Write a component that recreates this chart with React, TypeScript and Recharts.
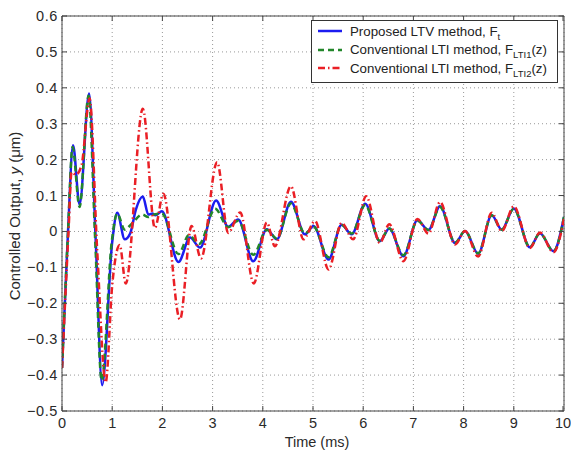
import { LineChart, Line, XAxis, YAxis, CartesianGrid, ReferenceLine, Legend } from "recharts";

// time axis ticks (ms) and output ticks (um)
const xTicks = [0, 1, 2, 3, 4, 5, 6, 7, 8, 9, 10];
const yTicks = [-0.5, -0.4, -0.3, -0.2, -0.1, 0, 0.1, 0.2, 0.3, 0.4, 0.5, 0.6];

// Proposed LTV method (blue)
const ltvTime = [
  0, 0.12, 0.22, 0.35, 0.54, 0.67, 0.8, 1.0, 1.1, 1.25, 1.36, 1.47, 1.61, 1.72, 1.8, 1.86, 1.99,
  2.32, 2.55, 2.75, 3.07, 3.31, 3.51, 3.81, 4.08, 4.28, 4.56, 4.84, 5.01, 5.31, 5.57, 5.77, 6.04,
  6.33, 6.52, 6.8, 7.08, 7.3, 7.53, 7.83, 8.03, 8.29, 8.56, 8.76, 9.0, 9.32, 9.52, 9.79, 10.0,
];
const ltvOut = [
  -0.38, 0.0, 0.24, 0.075, 0.384, -0.02, -0.428, -0.03, 0.052, -0.022, -0.005, 0.06, 0.097, 0.047, 0.05, 0.045, 0.056,
  -0.085, -0.017, -0.045, 0.086, 0.013, 0.033, -0.083, 0.006, -0.022, 0.083, -0.008, 0.015, -0.078, 0.019, -0.008, 0.077,
  -0.027, 0.008, -0.069, 0.031, 0.004, 0.07, -0.032, 0.001, -0.062, 0.045, 0.005, 0.064, -0.044, -0.005, -0.055, 0.04,
];

// Conventional LTI method, F_LTI1 (green)
const lti1Time = [
  0, 0.12, 0.21, 0.35, 0.53, 0.66, 0.79, 0.99, 1.1, 1.25, 1.38, 1.6, 1.72, 1.8, 1.99,
  2.32, 2.53, 2.73, 3.05, 3.31, 3.51, 3.81, 4.08, 4.28, 4.56, 4.84, 5.01, 5.31, 5.57, 5.77, 6.04,
  6.33, 6.52, 6.8, 7.08, 7.3, 7.53, 7.83, 8.03, 8.29, 8.56, 8.76, 9.0, 9.32, 9.52, 9.79, 10.0,
];
const lti1Out = [
  -0.38, 0.0, 0.235, 0.068, 0.378, -0.02, -0.415, -0.03, 0.05, 0.005, 0.02, 0.047, 0.04, 0.046, 0.05,
  -0.063, -0.01, -0.035, 0.063, 0.012, 0.03, -0.065, 0.005, -0.02, 0.078, -0.006, 0.013, -0.072, 0.018, -0.006, 0.074,
  -0.026, 0.008, -0.066, 0.03, 0.004, 0.068, -0.031, 0.001, -0.061, 0.045, 0.005, 0.063, -0.044, -0.005, -0.055, 0.04,
];

// Conventional LTI method, F_LTI2 (red)
const lti2Time = [
  0, 0.13, 0.19, 0.28, 0.39, 0.55, 0.7, 0.87, 1.0, 1.15, 1.27, 1.61, 1.85, 2.02, 2.35, 2.58, 2.77,
  3.09, 3.31, 3.55, 3.82, 4.08, 4.24, 4.56, 4.81, 5.04, 5.31, 5.57, 5.8, 6.06,
  6.33, 6.52, 6.8, 7.08, 7.3, 7.53, 7.83, 8.03, 8.29, 8.56, 8.76, 9.0, 9.32, 9.52, 9.79, 10.0,
];
const lti2Out = [
  -0.38, 0.0, 0.165, 0.158, 0.185, 0.37, -0.05, -0.42, -0.15, -0.038, -0.145, 0.342, 0.01, 0.105, -0.245, 0.015, -0.075,
  0.193, -0.004, 0.053, -0.145, 0.025, -0.041, 0.126, -0.022, 0.029, -0.106, 0.024, -0.022, 0.098,
  -0.032, 0.02, -0.083, 0.035, -0.006, 0.082, -0.036, 0.001, -0.07, 0.052, 0.001, 0.07, -0.046, -0.003, -0.058, 0.035,
];

const zip = (ts: number[], ys: number[]) => ts.map((t, i) => ({ t, y: ys[i] }));
const ltvData = zip(ltvTime, ltvOut);
const lti1Data = zip(lti1Time, lti1Out);
const lti2Data = zip(lti2Time, lti2Out);

const W = 571;
const H = 450;
const PLOT_TOP = 16;
const PLOT_RIGHT = 564;
const AXIS = "#444";
const TEXT = "#2a2a2a";
const FONT = "'Liberation Sans', Arial, sans-serif";

const BLUE = "#1c1cf0";
const GREEN = "#22862a";
const RED = "#ea1f25";

const fmtY = (v: number) => (v === 0 ? "0" : v < 0 ? "\u2212" + Math.abs(v).toFixed(1) : v.toFixed(1));

function XTick({ x, y, payload }: any) {
  return (
    <g>
      <line x1={x} x2={x} y1={y} y2={y - 5} stroke={AXIS} />
      <line x1={x} x2={x} y1={PLOT_TOP} y2={PLOT_TOP + 5} stroke={AXIS} />
      <text x={x} y={y + 17} textAnchor="middle" fontSize={14.5} fill={TEXT} fontFamily={FONT}>
        {payload.value}
      </text>
    </g>
  );
}

function YTick({ x, y, payload }: any) {
  return (
    <g>
      <line x1={x} x2={x + 5} y1={y} y2={y} stroke={AXIS} />
      <line x1={PLOT_RIGHT} x2={PLOT_RIGHT - 5} y1={y} y2={y} stroke={AXIS} />
      <text x={x - 4} y={y + 5} textAnchor="end" fontSize={14.5} letterSpacing={0.6} fill={TEXT} fontFamily={FONT}>
        {fmtY(payload.value)}
      </text>
    </g>
  );
}

const Sub = ({ children }: any) => (
  <span style={{ fontSize: 9.5, position: "relative", top: 4 }}>{children}</span>
);

const legendRows = [
  { color: BLUE, dash: undefined, label: <>Proposed LTV method, F<Sub>t</Sub></> },
  { color: GREEN, dash: "6 4", label: <>Conventional LTI method, F<Sub>LTI1</Sub>(z)</> },
  { color: RED, dash: "7 3 1.5 3", label: <>Conventional LTI method, F<Sub>LTI2</Sub>(z)</> },
];

function LegendBox() {
  return (
    <div
      style={{
        border: "1px solid #333",
        background: "#fff",
        width: 245,
        height: 60,
        paddingTop: 1,
        fontFamily: FONT,
        fontSize: 13.3,
        color: "#222",
        boxSizing: "content-box",
      }}
    >
      {legendRows.map((r, i) => (
        <div key={i} style={{ display: "flex", alignItems: "center", height: 18.5, whiteSpace: "nowrap" }}>
          <svg width={40} height={10} style={{ flex: "none" }}>
            <line x1={6} x2={30} y1={5} y2={5} stroke={r.color} strokeWidth={2.5} strokeDasharray={r.dash} />
          </svg>
          <span style={{ marginLeft: -2 }}>{r.label}</span>
        </div>
      ))}
    </div>
  );
}

export default function App() {
  return (
    <div style={{ position: "absolute", left: 0, top: 0, width: W, height: H, background: "#fff" }}>
      <LineChart width={W} height={H} margin={{ top: PLOT_TOP, right: W - PLOT_RIGHT, left: 0, bottom: 0 }}>
        <CartesianGrid stroke="#999" strokeDasharray="1 3" />
        <XAxis
          dataKey="t"
          type="number"
          domain={[0, 10]}
          ticks={xTicks}
          allowDataOverflow
          height={39}
          stroke={AXIS}
          tickLine={false}
          tickSize={0}
          tickMargin={0}
          tick={<XTick />}
          label={() => (
            <text x={317} y={447} textAnchor="middle" fontSize={14.5} fill={TEXT} fontFamily={FONT}>
              Time (ms)
            </text>
          )}
        />
        <YAxis
          type="number"
          domain={[-0.5, 0.6]}
          ticks={yTicks}
          allowDataOverflow
          width={62}
          stroke={AXIS}
          tickLine={false}
          tickSize={0}
          tickMargin={0}
          tick={<YTick />}
          label={() => (
            <text
              x={14}
              y={216}
              transform="rotate(-90 14 216)"
              textAnchor="middle"
              dominantBaseline="central"
              fontSize={15}
              fill={TEXT}
              fontFamily={FONT}
            >
              Controlled Output, <tspan fontStyle="italic">y</tspan> (μm)
            </text>
          )}
        />
        <ReferenceLine y={0.6} stroke={AXIS} />
        <ReferenceLine x={10} stroke={AXIS} />
        <Line data={ltvData} dataKey="y" type="monotone" stroke={BLUE} strokeWidth={2.5} dot={false} activeDot={false} isAnimationActive={false} />
        <Line data={lti1Data} dataKey="y" type="monotone" stroke={GREEN} strokeWidth={2.5} strokeDasharray="6 4" dot={false} activeDot={false} isAnimationActive={false} />
        <Line data={lti2Data} dataKey="y" type="monotone" stroke={RED} strokeWidth={2.5} strokeDasharray="7 3 1.5 3" dot={false} activeDot={false} isAnimationActive={false} />
        <Legend
          layout="vertical"
          align="center"
          verticalAlign="middle"
          content={() => <LegendBox />}
          wrapperStyle={{ left: 311, top: 20, width: 247, height: 62 }}
        />
      </LineChart>
    </div>
  );
}
